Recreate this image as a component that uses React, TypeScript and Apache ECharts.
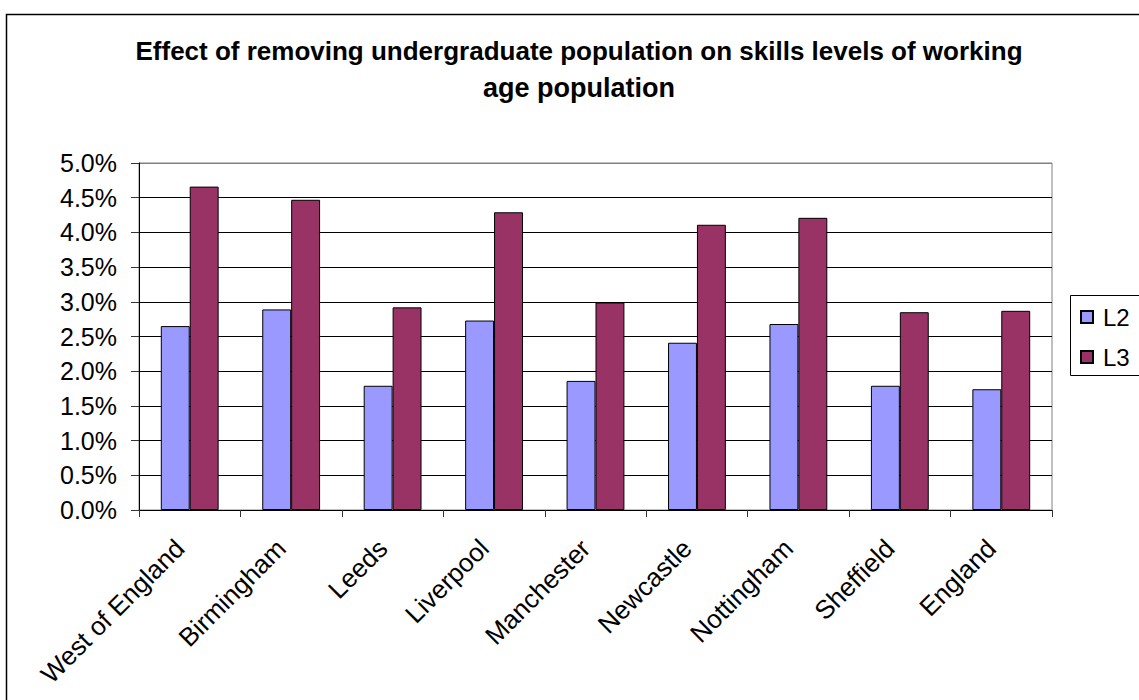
import React, { useEffect, useRef } from "react";
import * as echarts from "echarts";

const categories = ["West of England", "Birmingham", "Leeds", "Liverpool", "Manchester", "Newcastle", "Nottingham", "Sheffield", "England"];
const l2Values = [2.65, 2.89, 1.79, 2.73, 1.86, 2.41, 2.68, 1.79, 1.74];
const l3Values = [4.66, 4.47, 2.92, 4.29, 2.99, 4.11, 4.21, 2.85, 2.87];
const titleLine1 = "Effect of removing undergraduate population on skills levels of working";
const titleLine2 = "age population";

export default function App() {
  const ref = useRef<HTMLDivElement>(null);
  useEffect(() => {
    if (!ref.current) return;
    const chart = echarts.init(ref.current, undefined, { renderer: "svg" });
    const font = "Liberation Sans, Arial, sans-serif";
    const gridColors = ["#000", "#000", "#000", "#000", "#000", "#000", "#000", "#000", "#000", "#000", "#808080"];
    chart.setOption({
      animation: false,
      backgroundColor: "#fff",
      textStyle: { fontFamily: font },
      graphic: [
        {
          type: "rect",
          z: -10,
          shape: { x: 6.5, y: 14.5, width: 1300, height: 900 },
          style: { fill: "none", stroke: "#000", lineWidth: 1.5 },
          silent: true,
        },
        {
          type: "rect",
          shape: { x: 1070.5, y: 295.5, width: 120, height: 80 },
          style: { fill: "#fff", stroke: "#000", lineWidth: 1 },
          z: 1,
          silent: true,
        },
        {
          type: "text",
          x: 579,
          y: 51,
          style: {
            text: titleLine1,
            font: "bold 26px Liberation Sans, Arial, sans-serif",
            fill: "#000",
            textAlign: "center",
            textVerticalAlign: "middle",
          },
        },
        {
          type: "text",
          x: 579,
          y: 88,
          style: {
            text: titleLine2,
            font: "bold 27px Liberation Sans, Arial, sans-serif",
            fill: "#000",
            textAlign: "center",
            textVerticalAlign: "middle",
          },
        },
      ],
      legend: {
        orient: "vertical",
        left: 1075,
        top: 300,
        itemWidth: 12,
        itemHeight: 12,
        itemGap: 16,
        icon: "rect",
        z: 5,
        textStyle: { fontSize: 24, color: "#000", fontFamily: font, padding: [0, 0, 0, 5] },
        data: ["L2", "L3"],
      },
      grid: {
        left: 139,
        right: 87,
        top: 163,
        bottom: 190,
        show: true,
        borderColor: "#808080",
        borderWidth: 1,
        containLabel: false,
      },
      xAxis: {
        type: "category",
        data: categories,
        axisLine: { lineStyle: { color: "#000", width: 1 } },
        axisTick: { show: true, length: 7, lineStyle: { color: "#333" }, alignWithLabel: false },
        axisLabel: {
          rotate: 45,
          fontSize: 26,
          color: "#000",
          margin: 24,
          interval: 0,
          fontFamily: font,
          padding: [0, 14, 0, 0],
        },
      },
      yAxis: {
        type: "value",
        min: 0,
        max: 5,
        interval: 0.5,
        axisLine: { show: true, lineStyle: { color: "#000", width: 1 } },
        axisTick: { show: true, length: 8, lineStyle: { color: "#333" } },
        axisLabel: {
          fontSize: 25,
          color: "#000",
          margin: 22,
          fontFamily: font,
          formatter: (v: number) => v.toFixed(1) + "%",
        },
        splitLine: { show: true, lineStyle: { color: gridColors, width: 1 } },
      },
      series: [
        {
          name: "L2",
          type: "bar",
          data: l2Values,
          barGap: "0%",
          barCategoryGap: "43%",
          itemStyle: { color: "#9999FF", borderColor: "#000", borderWidth: 1 },
        },
        {
          name: "L3",
          type: "bar",
          data: l3Values,
          barGap: "0%",
          barCategoryGap: "43%",
          itemStyle: { color: "#993366", borderColor: "#000", borderWidth: 1 },
        },
      ],
    });
    return () => chart.dispose();
  }, []);
  return (
    <div
      ref={ref}
      style={{ position: "fixed", left: 0, top: 0, width: 1139, height: 700, background: "#fff" }}
    />
  );
}
